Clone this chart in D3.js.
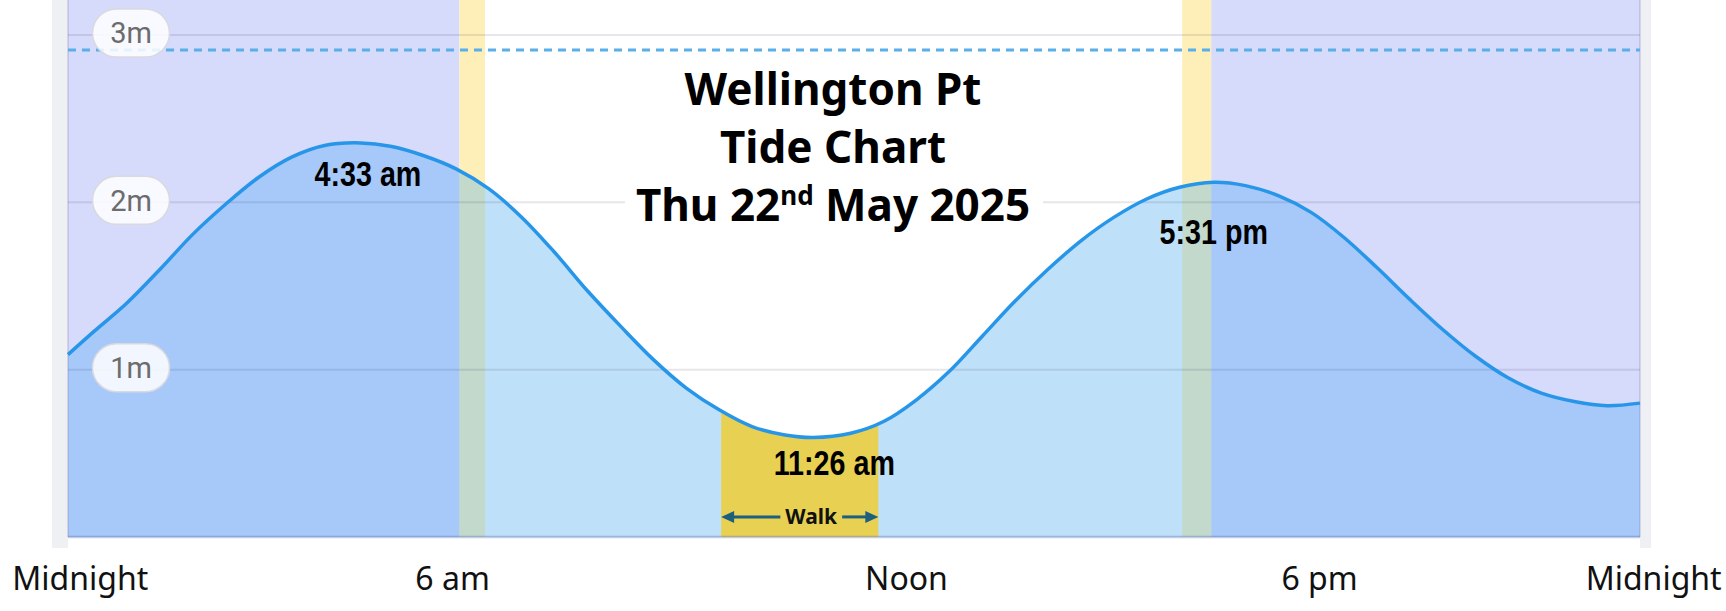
<!DOCTYPE html>
<html><head><meta charset="utf-8">
<script src="https://cdn.jsdelivr.net/npm/d3@7"></script>
<style>body{margin:0;background:#fff;} svg{display:block}</style>
</head><body><svg id="c" width="1726" height="611"></svg>
<script>
// ---- data ----
const tideHours   = [0.1,0.5,1,1.5,2,2.5,3,3.5,4,4.55,5,5.5,6,6.5,7,7.5,8,8.5,9,9.5,10,10.5,11,11.43,12,12.5,13,13.5,14,14.5,15,15.5,16,16.5,17,17.52,18,18.5,19,19.5,20,20.5,21,21.5,22,22.5,23,23.5,24];
const tideHeights = [1.09,1.23,1.40,1.60,1.81,1.99,2.15,2.27,2.34,2.355,2.335,2.28,2.20,2.08,1.91,1.70,1.47,1.26,1.06,0.89,0.76,0.66,0.61,0.595,0.62,0.69,0.82,0.99,1.20,1.41,1.60,1.77,1.91,2.02,2.09,2.12,2.10,2.04,1.94,1.79,1.61,1.42,1.24,1.08,0.95,0.86,0.81,0.785,0.80];

const extremeLabels      = ["4:33 am","11:26 am","5:31 pm"];
const extremeLabelHours  = [4.66, 11.75, 17.52];
const extremeLabelLevels = [2.10, 0.37, 1.75];

const nightStart = [0.1, 17.48];
const nightEnd   = [6.05, 24];
const twilightStart = [6.05, 17.04];
const twilightEnd   = [6.44, 17.48];

const walkWindow = [10.03, 12.42];
const walkLabel = "Walk";
const walkLabelHour = 11.40;
const walkArrowLevel = 0.12;

const gridLevels = [1, 2, 3];
const gridLabels = ["1m", "2m", "3m"];
const highTideLevel = 2.91;

const xTickHours  = [0.28, 5.94, 12.84, 19.12, 24.2];
const xTickLabels = ["Midnight", "6 am", "Noon", "6 pm", "Midnight"];

const titleLines = ["Wellington Pt", "Tide Chart"];
const dateParts = ["Thu 22", "nd", " May 2025"];

// ---- drawing ----
const svg = d3.select("#c");
const plotLeft = 68, plotRight = 1640, baseY = 537, topGridY = 35;
const x = d3.scaleLinear().domain([0.1, 24]).range([plotLeft, plotRight]);
const y = d3.scaleLinear().domain([0, 3]).range([baseY, topGridY]);
const data = tideHours.map((h, i) => ({h, v: tideHeights[i]}));
const curve = d3.curveCatmullRom.alpha(0.5);

svg.append("rect").attr("width", 1726).attr("height", 611).attr("fill", "#fff");

// side strips
svg.append("rect").attr("x", plotLeft - 16).attr("y", 0).attr("width", 16).attr("height", baseY + 11).attr("fill", "#eff0f4");
svg.append("rect").attr("x", plotRight).attr("y", 0).attr("width", 11).attr("height", baseY + 11).attr("fill", "#eff0f4");

// background bands
svg.selectAll(".night").data(nightStart).join("rect")
  .attr("x", (d) => x(d)).attr("y", 0)
  .attr("width", (d, i) => x(nightEnd[i]) - x(d)).attr("height", baseY)
  .attr("fill", "#d6dafb");
svg.selectAll(".twi").data(twilightStart).join("rect")
  .attr("x", (d) => x(d)).attr("y", 0)
  .attr("width", (d, i) => x(twilightEnd[i]) - x(d)).attr("height", baseY)
  .attr("fill", "#fdefb7");

// water area clip
const area = d3.area().x(d => x(d.h)).y0(y(0)).y1(d => y(d.v)).curve(curve);
svg.append("clipPath").attr("id", "water").append("path").attr("d", area(data));
const water = svg.append("g").attr("clip-path", "url(#water)");
water.append("rect").attr("x", plotLeft).attr("y", 0).attr("width", plotRight - plotLeft).attr("height", baseY).attr("fill", "#bfe0f9");
water.selectAll(".nw").data(nightStart).join("rect")
  .attr("x", d => x(d)).attr("y", 0)
  .attr("width", (d, i) => x(nightEnd[i]) - x(d)).attr("height", baseY)
  .attr("fill", "#a6c9fa");
water.selectAll(".tw").data(twilightStart).join("rect")
  .attr("x", d => x(d)).attr("y", 0)
  .attr("width", (d, i) => x(twilightEnd[i]) - x(d)).attr("height", baseY)
  .attr("fill", "#c2d9cc");
water.append("rect").attr("x", x(walkWindow[0])).attr("y", 0)
  .attr("width", x(walkWindow[1]) - x(walkWindow[0])).attr("height", baseY)
  .attr("fill", "#e8d152");

// gridlines
svg.selectAll(".grid").data(gridLevels).join("line")
  .attr("x1", plotLeft).attr("x2", plotRight)
  .attr("y1", d => y(d)).attr("y2", d => y(d))
  .attr("stroke", "rgba(20,20,60,0.1)").attr("stroke-width", 2);
svg.append("line").attr("x1", plotLeft).attr("x2", plotRight).attr("y1", y(0)).attr("y2", y(0))
  .attr("stroke", "rgba(60,90,170,0.3)").attr("stroke-width", 2.5);
svg.selectAll(".edge").data([plotLeft, plotRight]).join("line")
  .attr("x1", d => d).attr("x2", d => d).attr("y1", 0).attr("y2", baseY)
  .attr("stroke", "rgba(90,90,160,0.18)").attr("stroke-width", 2);

// high tide dashed line
svg.append("line").attr("x1", plotLeft).attr("x2", plotRight)
  .attr("y1", y(highTideLevel)).attr("y2", y(highTideLevel))
  .attr("stroke", "#5aaeea").attr("stroke-width", 3).attr("stroke-dasharray", "8,6");

// tide curve
svg.append("path").attr("d", d3.line().x(d => x(d.h)).y(d => y(d.v)).curve(curve)(data))
  .attr("fill", "none").attr("stroke", "#2896e8").attr("stroke-width", 3.5);

// y pills
const pills = svg.selectAll(".pill").data(gridLevels).join("g")
  .attr("transform", d => `translate(${plotLeft + 63},${y(d) - 2})`);
pills.append("rect").attr("x", -38.5).attr("y", -24).attr("width", 77).attr("height", 48).attr("rx", 24)
  .attr("fill", "rgba(255,255,255,0.85)").attr("stroke", "#d9d9de").attr("stroke-width", 1.5);
pills.append("text").text((d, i) => gridLabels[i])
  .attr("text-anchor", "middle").attr("dy", "0.36em")
  .attr("font-family", "Roboto, 'Liberation Sans', sans-serif").attr("font-size", 29).attr("fill", "#6c6c6c");

// title
svg.append("rect").attr("x", 625).attr("y", 62).attr("width", 418).attr("height", 174).attr("fill", "#fff");
const titleX = 833;
svg.selectAll(".title").data(titleLines).join("text")
  .attr("x", titleX).attr("y", (d, i) => 105 + i * 58)
  .attr("text-anchor", "middle")
  .attr("font-family", "'Noto Sans', 'Open Sans', sans-serif").attr("font-weight", 700).attr("font-size", 44)
  .attr("fill", "#000").text(d => d);
const dateText = svg.append("text").attr("x", titleX).attr("y", 221).attr("text-anchor", "middle")
  .attr("font-family", "'Noto Sans', 'Open Sans', sans-serif").attr("font-weight", 700).attr("font-size", 44).attr("fill", "#000");
dateText.append("tspan").text(dateParts[0]);
dateText.append("tspan").text(dateParts[1]).attr("font-size", 26).attr("dy", -16);
dateText.append("tspan").text(dateParts[2]).attr("dy", 16);

// high / low labels (narrow bold: Liberation Sans Bold squeezed horizontally)
svg.selectAll(".ext").data(extremeLabels).join("text")
  .attr("transform", (d, i) => `translate(${x(extremeLabelHours[i])},${y(extremeLabelLevels[i])}) scale(0.82,1)`)
  .attr("text-anchor", "middle")
  .attr("font-family", "'Liberation Sans', Arial, sans-serif")
  .attr("font-weight", 700).attr("font-size", 35).attr("fill", "#000").text(d => d);

// walk arrow
const wy = y(walkArrowLevel);
const wt = svg.append("text").attr("x", x(walkLabelHour)).attr("y", wy).attr("dy", "0.36em")
  .attr("text-anchor", "middle").attr("font-family", "'Noto Sans', 'Open Sans', sans-serif")
  .attr("font-weight", 700).attr("font-size", 21).attr("fill", "#111").text(walkLabel);
const tw = wt.node().getComputedTextLength();
const tl = x(walkLabelHour) - tw / 2 - 5, tr = x(walkLabelHour) + tw / 2 + 5;
const arrowColor = "#1d5f7e";
svg.append("line").attr("x1", x(walkWindow[0]) + 6).attr("x2", tl).attr("y1", wy).attr("y2", wy).attr("stroke", arrowColor).attr("stroke-width", 3);
svg.append("line").attr("x1", tr).attr("x2", x(walkWindow[1]) - 6).attr("y1", wy).attr("y2", wy).attr("stroke", arrowColor).attr("stroke-width", 3);
const ax0 = x(walkWindow[0]), ax1 = x(walkWindow[1]);
svg.append("path").attr("d", `M${ax0},${wy}L${ax0 + 13},${wy - 6}L${ax0 + 13},${wy + 6}Z`).attr("fill", arrowColor);
svg.append("path").attr("d", `M${ax1},${wy}L${ax1 - 13},${wy - 6}L${ax1 - 13},${wy + 6}Z`).attr("fill", arrowColor);

// x axis
const xAxis = d3.axisBottom(x).tickValues(xTickHours).tickFormat((d, i) => xTickLabels[i]).tickSize(0);
const gx = svg.append("g").attr("transform", "translate(0,590)").call(xAxis);
gx.select(".domain").remove();
gx.selectAll("text").attr("y", 0).attr("dy", 0)
  .attr("font-family", "'Noto Sans', 'Open Sans', sans-serif").attr("font-size", 32).attr("fill", "#111");
</script></body></html>
